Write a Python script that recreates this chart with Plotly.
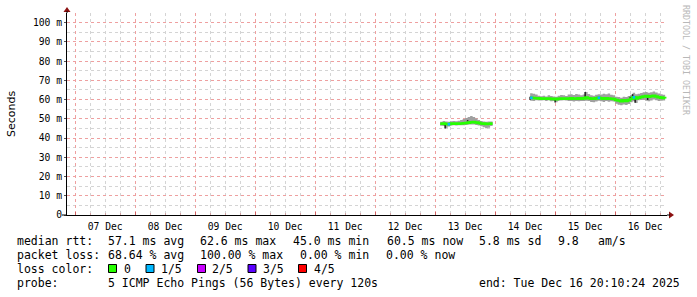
import plotly.graph_objects as go
import pandas as pd

W, H = 697, 297
L, R, T, B = 67, 30, 13, 82
PW, PH = W - L - R, H - T - B

# ---------------- data ----------------
x_range = ["2025-12-06 20:45", "2025-12-16 20:45"]
day_lines = ["2025-12-%02d 00:00" % d for d in range(7, 17)]
day_label_pos = ["2025-12-%02d 12:00" % d for d in range(7, 17)]
day_labels = ["07 Dec", "08 Dec", "09 Dec", "10 Dec", "11 Dec",
              "12 Dec", "13 Dec", "14 Dec", "15 Dec", "16 Dec"]
y_tickvals = [0, 0.01, 0.02, 0.03, 0.04, 0.05, 0.06, 0.07, 0.08, 0.09, 0.10]
y_ticktext = ["0", "10 m", "20 m", "30 m", "40 m", "50 m",
              "60 m", "70 m", "80 m", "90 m", "100 m"]

# segment 1 : hourly, Dec 13 02:00 .. 23:00 (ms)
seg1_start = "2025-12-13 02:00"
seg1_median = [47.4, 47.5, 47.3, 47.2, 47.5, 47.6, 47.5, 47.4, 47.6, 47.7, 47.8,
               48.0, 48.2, 48.3, 48.1, 47.9, 47.6, 47.5, 47.3, 47.4, 47.5, 47.5]
seg1_hi = [48.5, 48.8, 48.6, 48.5, 48.7, 48.9, 48.7, 49.0, 49.4, 49.9, 50.4,
           51.0, 51.4, 51.0, 50.2, 49.4, 48.8, 48.6, 48.5, 48.6, 48.6, 48.6]
seg1_lo = [46.4, 46.2, 45.2, 46.0, 46.5, 46.6, 46.5, 46.6, 46.7, 46.7, 46.8,
           47.0, 47.1, 47.1, 46.8, 46.5, 46.1, 45.6, 45.1, 45.4, 46.2, 46.2]
seg1_loss = [0, 0, 0, 1, 0, 0, 0, 0, 0, 0, 0,
             0, 0, 0, 0, 0, 0, 0, 0, 0, 0, 0]

# segment 2 : hourly, Dec 14 14:00 .. Dec 16 20:00 (ms)
seg2_start = "2025-12-14 14:00"
seg2_median = [60.9, 60.8, 60.7, 60.6,
               60.5, 60.4, 60.5, 60.5, 60.3, 60.4, 60.2, 60.4, 60.5, 60.5, 60.4,
               60.5, 60.6, 60.5, 60.4, 60.6, 60.5, 60.6,
               61.0, 60.7,
               60.5, 60.4, 60.6,
               60.9,
               60.6, 60.5, 60.7, 60.5, 60.4, 60.3,
               59.8, 59.5, 59.2, 59.6, 59.3, 59.7,
               60.4, 61.2, 60.6,
               61.0, 61.3, 61.6, 61.8, 61.5, 61.7, 62.0, 61.6, 61.2, 61.0, 60.8, 60.5]
seg2_hi = [63.3, 63.0, 62.6, 62.0,
           61.7, 62.0, 61.6, 62.3, 61.9, 61.6, 61.5, 62.0, 62.4, 62.2, 61.8,
           62.6, 62.8, 62.4, 62.9, 62.6, 62.3, 62.7,
           64.0, 62.9,
           62.2, 62.0, 62.5,
           62.8,
           62.7, 63.0, 62.8, 63.1, 62.5, 62.2,
           61.5, 61.3, 61.0, 61.5, 61.3, 61.8,
           62.5, 63.5, 62.8,
           63.0, 63.4, 63.8, 64.0, 63.6, 63.8, 64.2, 63.7, 63.2, 62.8, 62.5, 62.0]
seg2_lo = [59.4, 59.2, 59.6, 59.5,
           59.5, 59.6, 59.3, 59.6, 59.1, 59.2, 58.6, 59.4, 59.5, 59.6, 59.5,
           59.2, 59.3, 59.0, 59.2, 59.1, 59.3, 59.2,
           59.4, 59.3,
           58.8, 58.6, 59.0,
           59.4,
           59.1, 58.8, 59.2, 58.9, 59.1, 59.0,
           57.8, 57.3, 57.0, 57.5, 57.2, 57.7,
           58.6, 59.1, 58.2,
           59.6, 59.8, 59.9, 59.4, 59.1, 59.5, 60.0, 59.6, 59.2, 59.4, 59.5, 59.5]
seg2_loss = [1, 0, 0, 0,
             0, 0, 0, 0, 0, 0, 0, 0, 0, 0, 0,
             0, 0, 0, 0, 0, 0, 0,
             0, 0,
             0, 0, 0,
             1,
             0, 0, 0, 0, 0, 0,
             0, 0, 0, 0, 0, 0,
             0, 1, 0,
             0, 0, 0, 0, 0, 0, 0, 0, 0, 0, 0, 0]

# dark smoke marks (time, low ms, high ms)
dark_times = ["2025-12-13 04:00", "2025-12-13 13:00", "2025-12-14 14:00",
              "2025-12-15 00:00", "2025-12-15 12:00", "2025-12-16 06:00",
              "2025-12-16 07:00", "2025-12-16 08:00", "2025-12-16 13:00"]
dark_lo = [45.0, 48.6, 59.9, 58.5, 61.0, 59.5, 60.0, 58.3, 59.8]
dark_hi = [47.4, 49.3, 61.5, 60.3, 64.0, 61.5, 62.8, 60.6, 60.8]

loss_colors = ["#26ff00", "#00b8ff", "#c800ff", "#5a00ff", "#ff0000"]
loss_labels = ["0", "1/5", "2/5", "3/5", "4/5"]

# ---------------- figure ----------------
def px(x):
    return (x - L) / PW


def py(y):
    return (T + PH - y) / PH


fig = go.Figure()
SMOKE = "#a0a0a0"

segments = [(seg1_start, seg1_median, seg1_lo, seg1_hi, seg1_loss),
            (seg2_start, seg2_median, seg2_lo, seg2_hi, seg2_loss)]

for start, med, lo, hi, loss in segments:
    t = pd.date_range(start, periods=len(med), freq="h")
    fig.add_trace(go.Scatter(x=t, y=[v / 1000 for v in lo], mode="lines",
                             line=dict(width=0, shape="hv"), hoverinfo="skip",
                             showlegend=False))
    fig.add_trace(go.Scatter(x=t, y=[v / 1000 for v in hi], mode="lines",
                             line=dict(width=0, shape="hv"), fill="tonexty",
                             fillcolor=SMOKE, hoverinfo="skip", showlegend=False))

# dark marks
dx, dy = [], []
for tt, a, b in zip(dark_times, dark_lo, dark_hi):
    dx += [tt, tt, None]
    dy += [a / 1000, b / 1000, None]
fig.add_trace(go.Scatter(x=dx, y=dy, mode="lines",
                         line=dict(color="#1a1a1a", width=1.5),
                         hoverinfo="skip", showlegend=False))

for start, med, lo, hi, loss in segments:
    t = pd.date_range(start, periods=len(med), freq="h")
    fig.add_trace(go.Scatter(x=t, y=[v / 1000 for v in med], mode="lines",
                             line=dict(color=loss_colors[0], width=2.6, shape="hv"),
                             hoverinfo="skip", showlegend=False))
    bx, by = [], []
    for i in range(len(med) - 1):
        if loss[i] > 0:
            bx += [t[i], t[i + 1], None]
            by += [med[i] / 1000, med[i] / 1000, None]
    if bx:
        fig.add_trace(go.Scatter(x=bx, y=by, mode="lines",
                                 line=dict(color=loss_colors[1], width=2.6),
                                 hoverinfo="skip", showlegend=False))

MAJ = "#eea0a0"
MIN = "#d4d4d4"
DASH = "dot"
TICKFONT = dict(family="DejaVu Sans Mono", size=9.7, color="#000")

fig.update_layout(
    width=W, height=H,
    margin=dict(l=L, r=R, t=T, b=B, pad=0),
    paper_bgcolor="white", plot_bgcolor="white",
    showlegend=False,
    xaxis=dict(type="date", range=x_range, tickmode="array", tickvals=day_lines,
               showticklabels=False, showgrid=True, gridcolor=MAJ, griddash=DASH,
               gridwidth=1, ticks="inside", ticklen=3, tickcolor="#d06060",
               showline=True, linecolor="#000", linewidth=1, zeroline=False,
               minor=dict(dtick=6 * 3600 * 1000, tick0="2025-12-06 00:00",
                          showgrid=True, gridcolor=MIN, griddash=DASH,
                          gridwidth=1,
                          ticks="inside", ticklen=2, tickcolor="#d0a0a0")),
    xaxis2=dict(type="date", range=x_range, overlaying="x", side="bottom",
                anchor="y", tickmode="array", tickvals=day_label_pos,
                ticktext=day_labels, showgrid=False, ticks="", showline=False,
                tickfont=TICKFONT, ticklabelstandoff=4, zeroline=False),
    yaxis=dict(range=[0, 0.105], tickmode="array", tickvals=y_tickvals,
               ticktext=y_ticktext, showgrid=True, gridcolor=MAJ, gridwidth=1,
               griddash=DASH, zeroline=False, showline=True,
               linecolor="#000", linewidth=1, ticks="outside", ticklen=2,
               tickcolor="#555", tickfont=TICKFONT, ticklabelstandoff=0,
               minor=dict(dtick=0.005, showgrid=True, gridcolor=MIN, gridwidth=1,
                          griddash=DASH)),
)

# dummy trace to activate xaxis2
fig.add_trace(go.Scatter(x=[x_range[0]], y=[None], xaxis="x2", yaxis="y",
                         showlegend=False, hoverinfo="skip"))

ARROW = "#8b1010"
shapes = [
    dict(type="path", xref="paper", yref="paper", layer="above",
         path="M %f %f L %f %f L %f %f Z" % (px(669), py(211.5), px(674), py(215),
                                             px(669), py(218.5)),
         fillcolor=ARROW, line=dict(width=0)),
    dict(type="path", xref="paper", yref="paper", layer="above",
         path="M %f %f L %f %f L %f %f Z" % (px(63.5), py(12), px(67), py(7),
                                             px(70.5), py(12)),
         fillcolor=ARROW, line=dict(width=0)),
    dict(type="line", xref="paper", yref="paper", layer="above",
         x0=px(667), x1=px(670), y0=0, y1=0, line=dict(color="#000", width=1)),
    dict(type="line", xref="paper", yref="paper", layer="above",
         x0=0, x1=0, y0=1, y1=py(11), line=dict(color="#000", width=1)),
    dict(type="line", xref="paper", yref="paper", layer="above",
         x0=px(62), x1=0, y0=0, y1=0, line=dict(color="#000", width=1)),
]

LEG = dict(family="DejaVu Sans Mono", size=11.5, color="#000")
ann = []


def txt(x, y, s, **kw):
    d = dict(x=px(x), y=py(y), xref="paper", yref="paper", text=s,
             showarrow=False, xanchor="left", yanchor="middle",
             font=LEG, borderpad=0)
    d.update(kw)
    ann.append(d)


rows = [240.7, 254.7, 268.7, 282.7]
txt(16, rows[0], "median rtt:")
txt(107, rows[0], "57.1 ms avg")
txt(199, rows[0], "62.6 ms max")
txt(292, rows[0], "45.0 ms min")
txt(385.5, rows[0], "60.5 ms now")
txt(477.5, rows[0], "5.8 ms sd")
txt(556.5, rows[0], "9.8")
txt(597, rows[0], "am/s")

txt(16, rows[1], "packet loss:")
txt(107, rows[1], "68.64 % avg")
txt(199, rows[1], "100.00 % max")
txt(299, rows[1], "0.00 % min")
txt(385, rows[1], "0.00 % now")

txt(16, rows[2], "loss color:")
box_x = [108, 145.5, 197, 247.5, 298]
text_x = [123, 159.5, 211, 261.5, 312.5]
for bxp, txp, col, lab in zip(box_x, text_x, loss_colors, loss_labels):
    shapes.append(dict(type="rect", xref="paper", yref="paper", layer="above",
                       x0=px(bxp + 0.5), x1=px(bxp + 8.5), y0=py(272.5), y1=py(264.5),
                       fillcolor=col, line=dict(color="#000", width=1)))
    txt(txp, rows[2], lab)

txt(16, rows[3], "probe:")
txt(107, rows[3], "5 ICMP Echo Pings (56 Bytes) every 120s")
txt(477.5, rows[3], "end: Tue Dec 16 20:10:24 2025")

ann.append(dict(x=px(11), y=py(114), xref="paper", yref="paper", text="Seconds",
                textangle=-90, showarrow=False, xanchor="center", yanchor="middle",
                font=dict(family="DejaVu Sans", size=11, color="#000")))
ann.append(dict(x=px(686), y=py(60), xref="paper", yref="paper",
                text="RRDTOOL / TOBI OETIKER", textangle=90, showarrow=False,
                xanchor="center", yanchor="middle",
                font=dict(family="DejaVu Sans Mono", size=8.3, color="#b8b8b8")))

fig.update_layout(shapes=shapes, annotations=ann)
fig.write_html("out.html")
